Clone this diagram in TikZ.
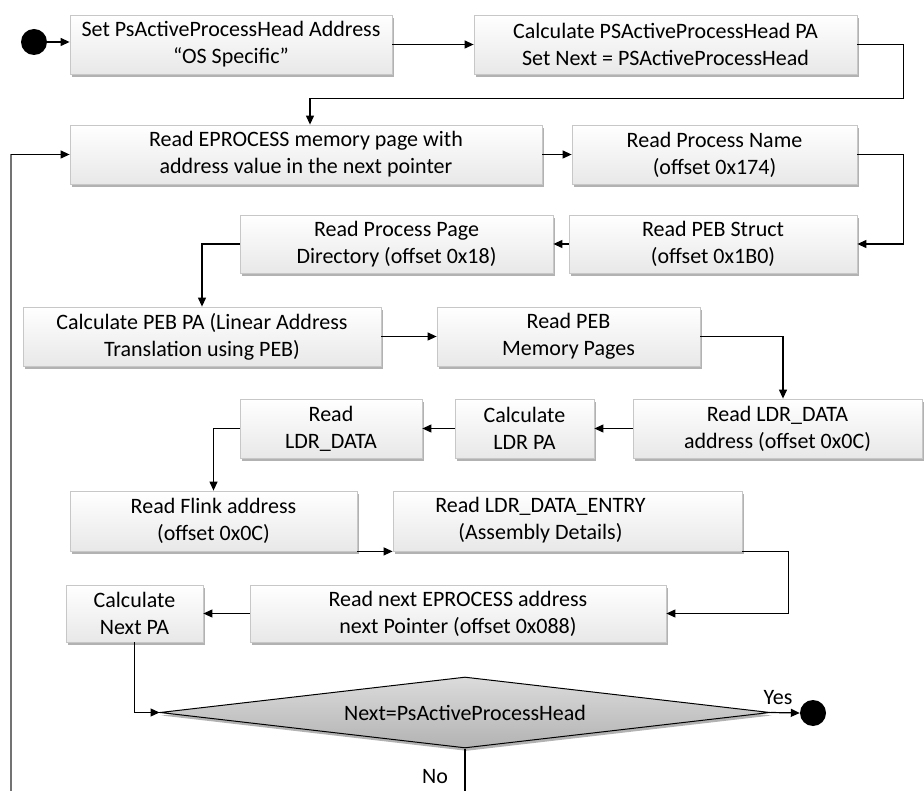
\documentclass[tikz,border=0pt]{standalone}
\usepackage{fontspec}
\setmainfont{Carlito}
\usetikzlibrary{arrows.meta,shapes.geometric,shadows}
\begin{document}
\begin{tikzpicture}[x=1pt,y=-1pt,
  font=\fontsize{22}{27}\selectfont,
  box/.style={draw=black!22, line width=0.8pt, top color=white, bottom color=black!9,
    drop shadow={shadow xshift=1.5pt,shadow yshift=-3pt,opacity=0.3,fill=black},
    align=center, inner sep=2pt},
  decision/.style={shape=diamond, aspect=8.59, draw=black, line width=1pt, top color=black!14,
    bottom color=black!30, inner sep=0pt, minimum width=610pt, minimum height=71pt,
    drop shadow={shadow xshift=1.5pt,shadow yshift=-3pt,opacity=0.3,fill=black}},
  dot/.style={circle, fill=black, minimum size=26pt, inner sep=0pt},
  flow/.style={line width=1.2pt, -{Triangle[length=9pt,width=8pt]}},
  plain/.style={line width=1.2pt},
  lbl/.style={inner sep=1pt}]
\useasboundingbox (0,0) rectangle (924,791);

% start / end markers
\node[dot] (start) at (34,42) {};
\node[dot] (end) at (813,713) {};

% process steps
\node[box, minimum width=322pt, minimum height=59pt] (b1) at (231,44.5)
  {Set PsActiveProcessHead Address\\“OS Specific”};
\node[box, minimum width=383pt, minimum height=59pt] (b2) at (665.5,44.5)
  {Calculate PSActiveProcessHead PA\\Set Next = PSActiveProcessHead};
\node[box, minimum width=472pt, minimum height=59pt] (b3) at (306,154.5)
  {Read EPROCESS memory page with\\address value in the next pointer};
\node[box, minimum width=285pt, minimum height=59pt] (b4) at (714.5,154.5)
  {Read Process Name\\(offset 0x174)};
\node[box, minimum width=288pt, minimum height=58pt] (b5) at (713,244)
  {Read PEB Struct\\(offset 0x1B0)};
\node[box, minimum width=313pt, minimum height=58pt] (b6) at (396.5,244)
  {Read Process Page\\Directory (offset 0x18)};
\node[box, minimum width=358pt, minimum height=59pt] (b7) at (202,336.5)
  {Calculate PEB PA (Linear Address\\Translation using PEB)};
\node[box, minimum width=263pt, minimum height=59pt] (b8) at (568.5,336.5)
  {Read PEB\\Memory Pages};
\node[box, minimum width=289pt, minimum height=59pt] (b9) at (777.5,428.5)
  {Read LDR\_DATA\\address (offset 0x0C)};
\node[box, minimum width=139pt, minimum height=59pt] (b10) at (524.5,428.5)
  {Calculate\\LDR PA};
\node[box, minimum width=182pt, minimum height=59pt] (b11) at (331,428.5)
  {Read\\LDR\_DATA};
\node[box, minimum width=287pt, minimum height=60pt] (b12) at (213.5,521)
  {Read Flink address\\(offset 0x0C)};
\node[box, minimum width=349pt, minimum height=60pt] (b13) at (567.5,521)
  {\hspace*{-54pt}\begin{tabular}{@{}c@{}}Read LDR\_DATA\_ENTRY\\(Assembly Details)\end{tabular}};
\node[box, minimum width=416pt, minimum height=57pt] (b14) at (458,613.5)
  {Read next EPROCESS address\\next Pointer (offset 0x088)};
\node[box, minimum width=137pt, minimum height=57pt] (b15) at (134.5,613.5)
  {Calculate\\Next PA};

% loop test
\node[decision] (dec) at (465,712.5) {Next=PsActiveProcessHead};
\node[lbl] (yes) at (778,698) {Yes};
\node[lbl] (no) at (435,777) {No};

% loop-back entry at the lower edge
\coordinate (loopin) at (11,791);

% connectors
\draw[flow] (start.east) -- (b1.west |- start);
\draw[flow] (b1.east) -- (b2.west);
\draw[flow] (b2.east) -- ++(46,0) -- ++(0,54) -| ([xshift=4pt]b3.north);
\draw[line width=1.2pt, black!55] (loopin) -- (loopin |- b3.west);
\draw[flow] (loopin |- b3.west) -- (b3.west);
\draw[flow] (b3.east) -- (b4.west);
\draw[flow] (b4.east) -- ++(46,0) |- (b5.east);
\draw[flow] (b5.west) -- (b6.east);
\draw[flow] (b6.west) -| (b7.north);
\draw[flow] (b7.east) -- (b8.west);
\draw[flow] (b8.east) -| ([xshift=5.5pt]b9.north);
\draw[flow] (b9.west) -- (b10.east);
\draw[flow] (b10.west) -- (b11.east);
\draw[flow] (b11.west) -| (b12.north);
\draw[flow] (b12.south east) -- (b13.south west);
\draw[flow] (b13.south east) -- ++(46,0) |- (b14.east);
\draw[flow] (b14.west) -- (b15.east);
\draw[flow] (b15.south) |- (dec.west);
\draw[flow] (dec.east) -- (end.west);
\draw[plain] (dec.south) -- (dec.south |- loopin);
\end{tikzpicture}
\end{document}
